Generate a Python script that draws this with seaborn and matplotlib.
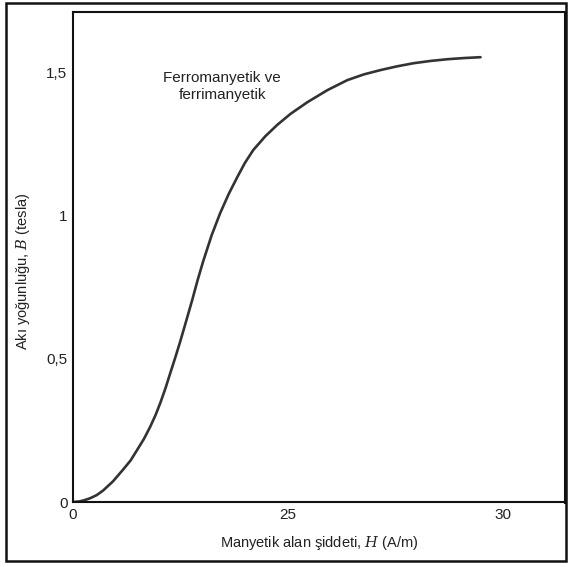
import matplotlib
matplotlib.use("Agg")
import matplotlib.pyplot as plt
import matplotlib.patches as patches
import pandas as pd
import seaborn as sns

# Magnetization curve (B vs H), H in tick-index units on the axis
h_values = [0.0, 0.030, 0.056, 0.079, 0.11, 0.14, 0.186, 0.233, 0.268, 0.298,
            0.330, 0.359, 0.384, 0.406, 0.430, 0.452, 0.476, 0.499, 0.527,
            0.555, 0.580, 0.606, 0.645, 0.685, 0.725, 0.765, 0.800, 0.839,
            0.895, 0.951, 1.012, 1.091, 1.184, 1.277, 1.354, 1.431, 1.508,
            1.585, 1.665, 1.744, 1.820, 1.897]
b_values = [0.0, 0.002, 0.007, 0.013, 0.024, 0.040, 0.072, 0.113, 0.145, 0.181,
            0.220, 0.262, 0.303, 0.345, 0.396, 0.448, 0.504, 0.560, 0.632,
            0.705, 0.774, 0.840, 0.930, 1.008, 1.075, 1.134, 1.183, 1.228,
            1.276, 1.316, 1.354, 1.395, 1.437, 1.472, 1.492, 1.507, 1.520,
            1.531, 1.539, 1.545, 1.549, 1.552]

x_tick_pos = [0, 1, 2]
x_tick_labels = ["0", "25", "30"]
y_tick_pos = [0, 0.5, 1, 1.5]
y_tick_labels = ["0", "0,5", "1", "1,5"]

curve_label = "Ferromanyetik ve\nferrimanyetik"

df = pd.DataFrame({"H": h_values, "B": b_values})

sns.set_theme(style="white")
plt.rcParams["font.family"] = ["Liberation Sans Narrow", "Liberation Sans", "DejaVu Sans"]
plt.rcParams["mathtext.fontset"] = "dejavuserif"

fig = plt.figure(figsize=(5.73, 5.67), dpi=100)
ax = fig.add_axes([0.1274, 0.1146, 0.8586, 0.8644])

sns.lineplot(data=df, x="H", y="B", ax=ax, color="#333333", linewidth=1.9,
             sort=False, estimator=None)

ax.set_xlim(0, 2.29)
ax.set_ylim(0, 1.71)

ax.set_xticks(x_tick_pos)
ax.set_xticklabels(x_tick_labels, fontsize=11)
ax.set_yticks(y_tick_pos)
ax.set_yticklabels(y_tick_labels, fontsize=11)
ax.tick_params(axis="x", direction="in", length=10, width=1.0, color="#222222",
               pad=4, labelcolor="#222222")
ax.tick_params(axis="y", direction="in", length=13, width=1.0, color="#222222",
               pad=4, labelcolor="#222222")

for side in ["left", "bottom", "top", "right"]:
    ax.spines[side].set_visible(True)
    ax.spines[side].set_color("#111111")
    ax.spines[side].set_linewidth(1.5)
ax.spines["right"].set_linewidth(2.2)

ax.set_xlabel("Manyetik alan şiddeti, $H$ (A/m)", fontsize=10.5, color="#222222",
              labelpad=9)
ax.set_ylabel("Akı yoğunluğu, $B$ (tesla)", fontsize=10.5, color="#222222")
ax.yaxis.set_label_coords(-0.083, 0.47)

ax.text(0.695, 1.45, curve_label, ha="center", va="center", fontsize=11,
        color="#222222", linespacing=1.25)

# Outer frame around the whole figure
frame = patches.Rectangle((6 / 573, 1 - 561 / 567), 560 / 573, 558 / 567,
                          transform=fig.transFigure, fill=False,
                          edgecolor="#111111", linewidth=1.8)
fig.patches.append(frame)

fig.savefig("out.png", dpi=100)
